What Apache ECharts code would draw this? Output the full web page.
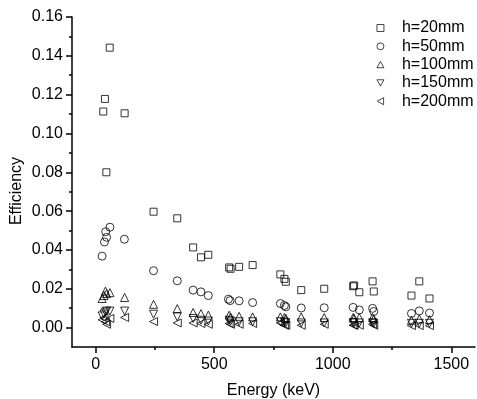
<!DOCTYPE html>
<html>
<head>
<meta charset="utf-8">
<script src="https://cdn.jsdelivr.net/npm/echarts@6/dist/echarts.min.js"></script>
<style>html,body{margin:0;padding:0;background:#fff}#c{width:477px;height:399px}</style>
</head>
<body>
<div id="c"></div>
<script>
const seriesNames = ['h=20mm', 'h=50mm', 'h=100mm', 'h=150mm', 'h=200mm'];

const energy20 = [32, 39, 45, 59, 122, 244, 344, 411, 444, 475, 563, 569, 605, 662, 779, 796, 802, 867, 964, 1086, 1090, 1112, 1168, 1173, 1332, 1365, 1408];
const eff20 = [0.1113, 0.1178, 0.0800, 0.1442, 0.1104, 0.0597, 0.0563, 0.0413, 0.0362, 0.0375, 0.0310, 0.0303, 0.0313, 0.0322, 0.0274, 0.0251, 0.0236, 0.0193, 0.0200, 0.0213, 0.0217, 0.0182, 0.0238, 0.0186, 0.0165, 0.0238, 0.0150];

const energy50 = [27, 37, 42, 46, 60, 121, 244, 344, 411, 444, 475, 560, 567, 605, 662, 779, 796, 802, 867, 964, 1086, 1112, 1168, 1173, 1332, 1365, 1408];
const eff50 = [0.0368, 0.0441, 0.0494, 0.0465, 0.0517, 0.0455, 0.0293, 0.0241, 0.0193, 0.0184, 0.0165, 0.0146, 0.0139, 0.0138, 0.0129, 0.0124, 0.0114, 0.0107, 0.0101, 0.0102, 0.0104, 0.0091, 0.0099, 0.0083, 0.0073, 0.0086, 0.0075];

const energy100 = [27, 35, 41, 46, 60, 122, 244, 344, 411, 444, 475, 563, 569, 605, 662, 779, 796, 802, 867, 964, 1086, 1090, 1112, 1168, 1173, 1332, 1365, 1408];
const eff100 = [0.0150, 0.0165, 0.0188, 0.0175, 0.0180, 0.0155, 0.0120, 0.0098, 0.0078, 0.0072, 0.0064, 0.0064, 0.0055, 0.0058, 0.0055, 0.0055, 0.0052, 0.0048, 0.0055, 0.0052, 0.0052, 0.0048, 0.0052, 0.0052, 0.0045, 0.0038, 0.0045, 0.0041];

const energy150 = [27, 35, 41, 46, 60, 122, 244, 344, 411, 444, 475, 563, 569, 605, 662, 779, 796, 802, 867, 964, 1086, 1090, 1112, 1168, 1173, 1332, 1365, 1408];
const eff150 = [0.0060, 0.0070, 0.0080, 0.0085, 0.0085, 0.0085, 0.0069, 0.0055, 0.0047, 0.0038, 0.0034, 0.0038, 0.0033, 0.0030, 0.0030, 0.0030, 0.0028, 0.0025, 0.0024, 0.0024, 0.0025, 0.0025, 0.0024, 0.0025, 0.0022, 0.0022, 0.0022, 0.0022];

const energy200 = [27, 35, 41, 46, 60, 122, 244, 344, 411, 444, 475, 563, 569, 605, 662, 779, 796, 802, 867, 964, 1086, 1090, 1112, 1168, 1173, 1332, 1365, 1408];
const eff200 = [0.0040, 0.0050, 0.0030, 0.0017, 0.0047, 0.0052, 0.0031, 0.0024, 0.0024, 0.0021, 0.0017, 0.0021, 0.0017, 0.0017, 0.0021, 0.0024, 0.0012, 0.0012, 0.0012, 0.0017, 0.0012, 0.0012, 0.0012, 0.0017, 0.0012, 0.0010, 0.0010, 0.0010];

const xMajorTicks = [0, 500, 1000, 1500];
const xMinorTicks = [250, 750, 1250];
const yMajorTicks = [0, 0.02, 0.04, 0.06, 0.08, 0.10, 0.12, 0.14, 0.16];
const yMinorTicks = [0.01, 0.03, 0.05, 0.07, 0.09, 0.11, 0.13, 0.15];

const FONT = 'Liberation Sans, Arial, sans-serif';
const FS = 16;
const pair = (xs, ys) => xs.map((x, i) => [x, ys[i]]);

const symbols = [
  { symbol: 'rect', size: 7, rotate: 0, legendIcon: 'rect' },
  { symbol: 'circle', size: 8, rotate: 0, legendIcon: 'circle' },
  { symbol: 'triangle', size: 8, rotate: 0, legendIcon: 'path://M5,0 L10,9 L0,9 Z' },
  { symbol: 'triangle', size: 8, rotate: 180, legendIcon: 'path://M0,0 L10,0 L5,9 Z' },
  { symbol: 'triangle', size: 8, rotate: 90, legendIcon: 'path://M9,0 L9,10 L0,5 Z' }
];
const datasets = [pair(energy20, eff20), pair(energy50, eff50), pair(energy100, eff100), pair(energy150, eff150), pair(energy200, eff200)];

const axisLineStyle = { color: '#000', width: 1.5 };
const hollow = { color: 'rgba(0,0,0,0)', borderColor: '#000', borderWidth: 1 };

const option = {
  animation: false,
  backgroundColor: '#fff',
  textStyle: { fontFamily: FONT },
  grid: { left: 72, right: 2, top: 17, bottom: 52, containLabel: false, outerBoundsMode: 'none' },
  legend: {
    orient: 'vertical',
    left: 371.5,
    top: 15,
    itemWidth: 7,
    itemHeight: 7,
    itemGap: 2.3,
    itemStyle: { color: 'rgba(0,0,0,0)', borderColor: '#000', borderWidth: 0.9 },
    textStyle: { fontFamily: FONT, fontSize: FS, color: '#000', padding: [0, 0, 0, 13] },
    data: seriesNames.map((name, i) => ({ name, icon: symbols[i].legendIcon }))
  },
  xAxis: [{
    type: 'value', min: -100, max: 1600,
    name: 'Energy (keV)', nameLocation: 'middle', nameGap: 36,
    nameTextStyle: { fontFamily: FONT, fontSize: FS, color: '#000' },
    axisLine: { show: true, onZero: false, lineStyle: axisLineStyle },
    axisTick: { show: true, inside: false, length: 6, lineStyle: { color: '#000', width: 1.5 }, customValues: xMajorTicks },
    axisLabel: { fontFamily: FONT, fontSize: FS, color: '#000', margin: 10, customValues: xMajorTicks, formatter: v => String(v) },
    splitLine: { show: false }
  }, {
    type: 'value', min: -100, max: 1600, position: 'bottom',
    axisLine: { show: false, onZero: false },
    axisTick: { show: true, inside: false, length: 3, lineStyle: { color: '#000', width: 1.5 }, customValues: xMinorTicks },
    axisLabel: { show: false },
    splitLine: { show: false }
  }],
  yAxis: [{
    type: 'value', min: -0.01, max: 0.16,
    name: 'Efficiency', nameLocation: 'middle', nameGap: 47, nameRotate: 90, nameMoveOverlap: false,
    nameTextStyle: { fontFamily: FONT, fontSize: FS, color: '#000', padding: [0, 18, 0, 0] },
    axisLine: { show: true, onZero: false, lineStyle: axisLineStyle },
    axisTick: { show: true, inside: false, length: 6, lineStyle: { color: '#000', width: 1.5 }, customValues: yMajorTicks },
    axisLabel: { fontFamily: FONT, fontSize: FS, color: '#000', margin: 9, customValues: yMajorTicks, formatter: v => v.toFixed(2) },
    splitLine: { show: false }
  }, {
    type: 'value', min: -0.01, max: 0.16, position: 'left',
    axisLine: { show: false, onZero: false },
    axisTick: { show: true, inside: false, length: 3, lineStyle: { color: '#000', width: 1.5 }, customValues: yMinorTicks },
    axisLabel: { show: false },
    splitLine: { show: false }
  }],
  series: seriesNames.map((name, i) => ({
    name,
    type: 'scatter',
    xAxisIndex: 0,
    yAxisIndex: 0,
    symbol: symbols[i].symbol,
    symbolSize: symbols[i].size,
    symbolRotate: symbols[i].rotate,
    itemStyle: hollow,
    emphasis: { disabled: true },
    data: datasets[i]
  }))
};

const chart = echarts.init(document.getElementById('c'), null, { renderer: 'canvas' });
chart.setOption(option);
</script>
</body>
</html>
